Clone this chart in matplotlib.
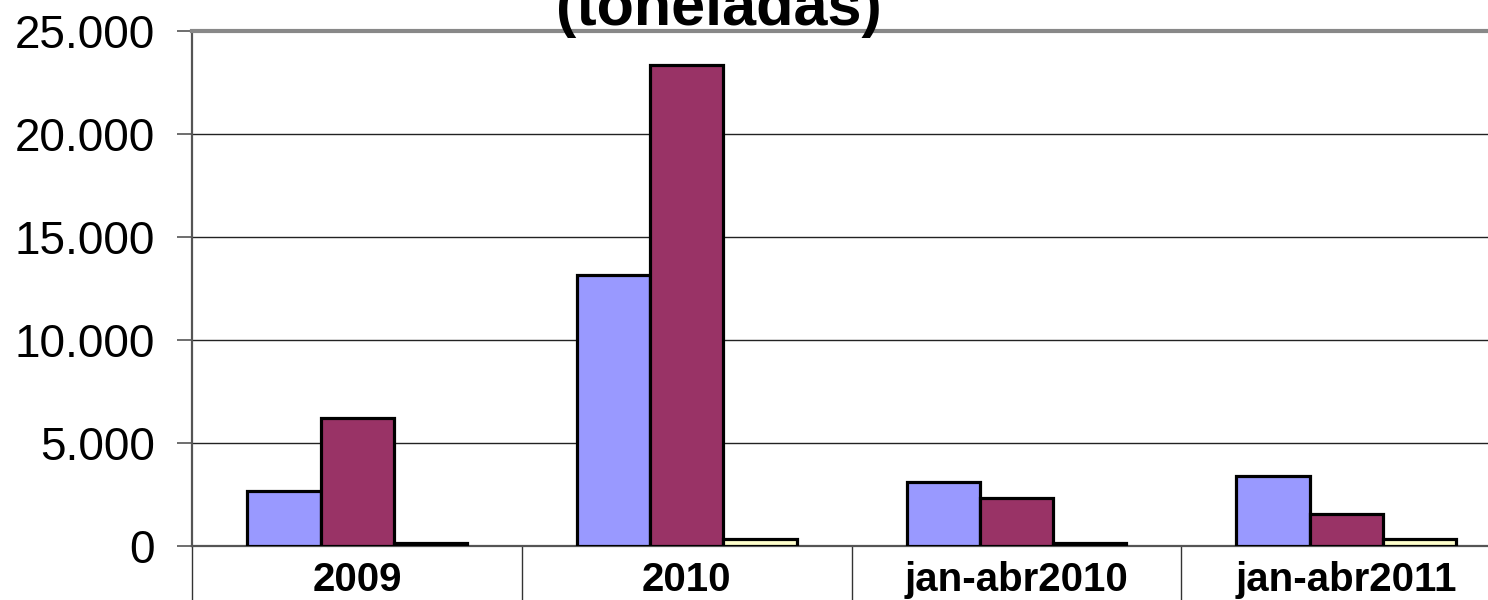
import matplotlib
matplotlib.use('Agg')
import matplotlib.pyplot as plt
from matplotlib.ticker import FuncFormatter
import numpy as np

plt.rcParams.update({'font.family': ['Liberation Sans', 'DejaVu Sans']})

# data (toneladas)
categorias = ['2009', '2010', 'jan-abr2010', 'jan-abr2011']
serie_a = [2670, 13150, 3110, 3390]
serie_b = [6190, 23350, 2330, 1530]
serie_c = [150, 330, 110, 320]
cores = ['#9999FF', '#993366', '#FFFFCC']
yticks = [0, 5000, 10000, 15000, 20000, 25000]

W, H = 1488, 600
fig = plt.figure(figsize=(W/100, H/100), dpi=100)
# plot area runs a little past the right edge, as in the reference
ax = fig.add_axes([192.3/W, 1-545.7/H, (1511-192.3)/W, (545.7-31)/H])

x = np.arange(len(categorias))
bw = 1/4.5
for k, (vals, c) in enumerate(zip([serie_a, serie_b, serie_c], cores)):
    ax.bar(x + (k-1)*bw, vals, width=bw, color=c, edgecolor='black',
           linewidth=2.3, zorder=3)

ax.set_xlim(-0.5, len(categorias)-0.5)
ax.set_ylim(0, 25000)
ax.set_yticks(yticks)
ax.yaxis.set_major_formatter(FuncFormatter(lambda v, p: f'{int(v):,}'.replace(',', '.')))
ax.tick_params(axis='y', labelsize=33, length=11, width=1.2, color='#555555', pad=16)
ax.grid(axis='y', color='#222222', lw=1.0, zorder=0)

# category separators reach down through the label area
ax.set_xticks(np.arange(len(categorias)+1) - 0.5)
ax.set_xticklabels([])
ax.tick_params(axis='x', which='major', length=40, width=1.0, color='#333333')
ax.set_xticks(x, minor=True)
ax.set_xticklabels(categorias, minor=True, fontsize=29, fontweight='bold')
ax.tick_params(axis='x', which='minor', length=0, pad=11)

for s in ['left', 'bottom']:
    ax.spines[s].set_color('#555555')
    ax.spines[s].set_linewidth(1.6)
ax.spines['top'].set_color('#888888')
ax.spines['top'].set_linewidth(3)
ax.spines['right'].set_visible(False)

# the reference shows only the lower part of the title, cut by the top edge
fig.text(719/W, 1-24.5/H, '(toneladas)', ha='center', va='baseline',
         fontsize=44, fontweight='bold')

fig.savefig('out.png', dpi=100)
